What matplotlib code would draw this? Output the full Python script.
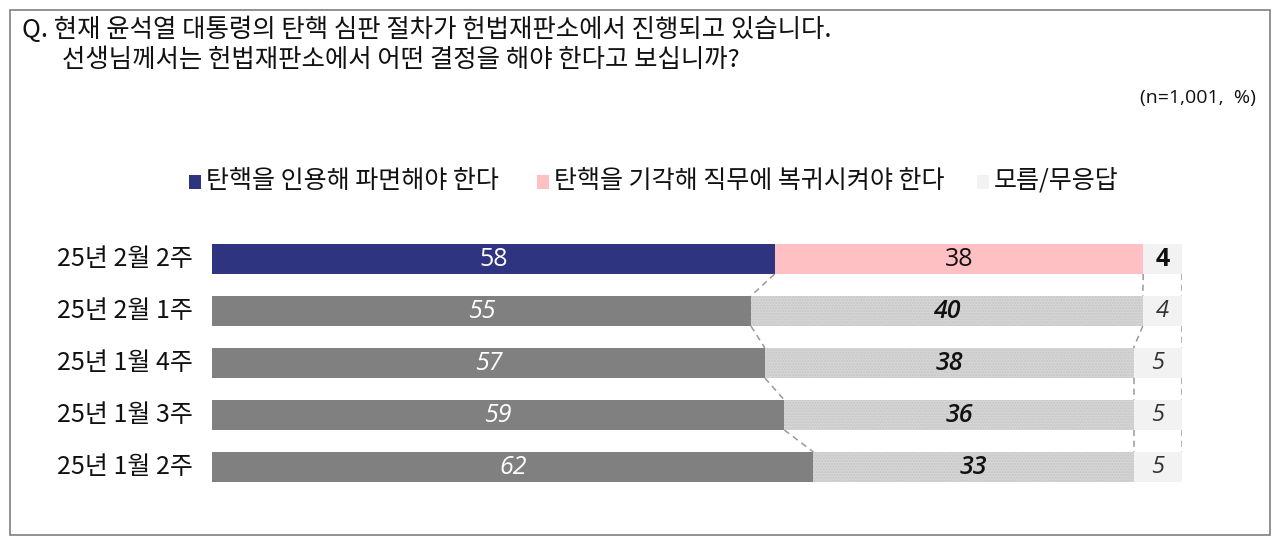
import matplotlib
matplotlib.use("Agg")
import matplotlib.pyplot as plt
from matplotlib.patches import Rectangle
import numpy as np

plt.rcParams['font.family'] = ['Noto Sans CJK KR', 'DejaVu Sans']

categories = ["25년 2월 2주", "25년 2월 1주", "25년 1월 4주", "25년 1월 3주", "25년 1월 2주"]
cite = [58, 55, 57, 59, 62]
dismiss = [38, 40, 38, 36, 33]
unknown = [4, 4, 5, 5, 5]
series_names = ["탄핵을 인용해 파면해야 한다", "탄핵을 기각해 직무에 복귀시켜야 한다", "모름/무응답"]
title_lines = ["Q. 현재 윤석열 대통령의 탄핵 심판 절차가 헌법재판소에서 진행되고 있습니다.",
               "선생님께서는 헌법재판소에서 어떤 결정을 해야 한다고 보십니까?"]
note = "(n=1,001,  %)"

W, H = 1280, 545
fig = plt.figure(figsize=(W / 100, H / 100), dpi=100)

def fx(px):
    return px / W

def fy(py):
    return 1 - py / H

# frame
fig.patches.append(Rectangle((fx(10), fy(535)), fx(1260), 525 / H, transform=fig.transFigure,
                             fill=False, edgecolor='#7f7f7f', linewidth=1.2))

# title
fig.text(fx(22), fy(30), title_lines[0], fontsize=18.3, va='center', ha='left', color='#111111')
fig.text(fx(62), fy(60), title_lines[1], fontsize=18.3, va='center', ha='left', color='#111111')
fig.text(fx(1256), fy(98), note, fontsize=14, va='center', ha='right', color='#111111',
         family=['Open Sans', 'DejaVu Sans'])

# legend
leg_colors = ['#2e3480', '#ffc0c4', '#f2f2f2']
leg_x = [189, 537, 977]
for x0, c, name in zip(leg_x, leg_colors, series_names):
    fig.patches.append(Rectangle((fx(x0), fy(189)), fx(12), 14 / H, transform=fig.transFigure,
                                 facecolor=c, edgecolor='none'))
    fig.text(fx(x0 + 17), fy(181), name, fontsize=18, va='center', ha='left', color='#111111')

ax = fig.add_axes([fx(212), fy(493), fx(970), 260 / H])
ax.set_xlim(0, 100)
ax.set_ylim(4.5, -0.5)
ax.axis('off')

h = 30 / 52
c1 = np.array(cite, dtype=float)
c2 = np.array(dismiss, dtype=float)
c3 = np.array(unknown, dtype=float)
tot = c1 + c2 + c3
p1 = c1 / tot * 100
p2 = c2 / tot * 100
p3 = c3 / tot * 100

num_font = ['Open Sans', 'DejaVu Sans']

for i in range(len(categories)):
    if i == 0:
        ax.barh(i, p1[i], height=h, color='#2e3480', linewidth=0)
        ax.barh(i, p2[i], left=p1[i], height=h, color='#ffc0c4', linewidth=0)
        ax.barh(i, p3[i], left=p1[i] + p2[i], height=h, color='#f2f2f2', linewidth=0)
        ax.text(p1[i] / 2, i, str(cite[i]), ha='center', va='center', color='white', fontsize=18,
                family=num_font)
        ax.text(p1[i] + p2[i] / 2, i, str(dismiss[i]), ha='center', va='center', color='#111111',
                fontsize=18, family=num_font)
        ax.text(p1[i] + p2[i] + p3[i] / 2, i, str(unknown[i]), ha='center', va='center', color='#111111',
                fontsize=18, fontweight='bold', family=num_font)
    else:
        ax.barh(i, p1[i], height=h, color='#808080', linewidth=0)
        ax.barh(i, p2[i], left=p1[i], height=h, color='#d6d6d6', linewidth=0,
                hatch='......', edgecolor='#c6c6c6')
        ax.barh(i, p3[i], left=p1[i] + p2[i], height=h, color='#f2f2f2', linewidth=0)
        ax.text(p1[i] / 2, i, str(cite[i]), ha='center', va='center', color='white', fontsize=18,
                fontstyle='italic', family=num_font)
        ax.text(p1[i] + p2[i] / 2, i, str(dismiss[i]), ha='center', va='center', color='#111111',
                fontsize=18, fontstyle='italic', fontweight='semibold', family=num_font)
        ax.text(p1[i] + p2[i] + p3[i] / 2, i, str(unknown[i]), ha='center', va='center', color='#333333',
                fontsize=17, fontstyle='italic', family=num_font)
    ax.text(-2.0, i, categories[i], ha='right', va='center', fontsize=18, color='#111111')

# connector lines
b1 = p1
b2 = p1 + p2
b3 = p1 + p2 + p3
for i in range(len(categories) - 1):
    for b in (b1, b2, b3):
        ax.plot([b[i], b[i + 1]], [i + h / 2, i + 1 - h / 2], color='#999999', linewidth=1.1,
                linestyle=(0, (4, 3)))

ax.patch.set_alpha(0)

fig.savefig("out.png", dpi=100)
